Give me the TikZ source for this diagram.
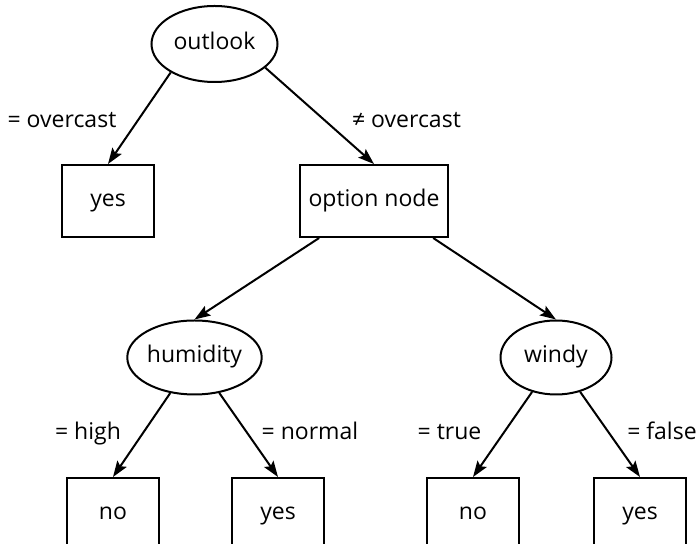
\documentclass[tikz,border=0pt]{standalone}
\usepackage{fontspec}
\setmainfont{Open Sans}
\usetikzlibrary{arrows.meta, shapes.geometric}

\begin{document}
\begin{tikzpicture}[
    x=0.5pt, y=-0.5pt,
    font=\fontsize{11.5}{13}\selectfont,
    test/.style={ellipse, draw, line width=1pt, inner sep=0pt,
      minimum height=37pt, text height=1ex, text depth=0pt},
    leaf/.style={rectangle, draw, line width=1pt, minimum width=46pt,
      minimum height=36pt, text height=1ex, text depth=0pt},
    branch/.style={draw, line width=1pt,
      -{Stealth[length=8pt, width=5.6pt, inset=1.5pt]}},
    lab/.style={inner sep=0pt, text height=1ex, text depth=0pt}]
  \useasboundingbox (0,0) rectangle (697,544);
  % tree nodes
  \node[test, minimum width=63pt, minimum height=38pt] (outlook) at (214.5,44) {outlook};
  \node[leaf] (yes1) at (108,201) {yes};
  \node[leaf, minimum width=74pt] (opt) at (374,201) {option node};
  \node[test, minimum width=66pt] (hum) at (194.5,357.5) {humidity};
  \node[test, minimum width=55.5pt] (windy) at (556,357.5) {windy};
  \node[leaf] (no1) at (113,514) {no};
  \node[leaf] (yes2) at (278,514) {yes};
  \node[leaf] (no2) at (473,514) {no};
  \node[leaf] (yes3) at (640,514) {yes};
  % branches
  \draw[branch] (outlook.213) -- (yes1.north);
  \draw[branch] (outlook.-25) -- (opt.north);
  \draw[branch] (opt.214) -- (hum.north);
  \draw[branch] (opt.-32) -- (windy.north);
  \draw[branch] (hum) -- (no1.north);
  \draw[branch] (hum) -- (yes2.north);
  \draw[branch] (windy) -- (no2.north);
  \draw[branch] (windy) -- (yes3.north);
  % branch labels
  \node[lab] (lover) at (62,122) {= overcast};
  \node[lab] (lnover) at (406.5,122) {≠ overcast};
  \node[lab] (lhigh) at (88,434) {= high};
  \node[lab] (lnormal) at (310,434) {= normal};
  \node[lab] (ltrue) at (449.5,434) {= true};
  \node[lab] (lfalse) at (662,434) {= false};
\end{tikzpicture}
\end{document}
